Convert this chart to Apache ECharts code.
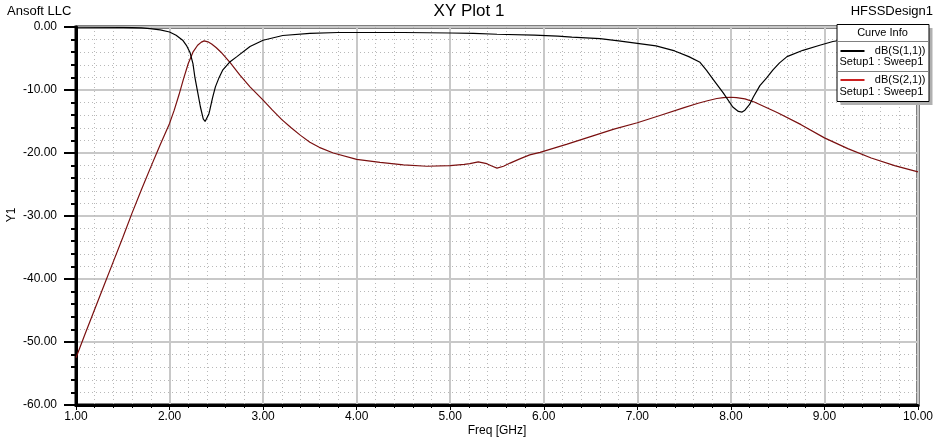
<!DOCTYPE html>
<html>
<head>
<meta charset="utf-8">
<script src="https://cdn.jsdelivr.net/npm/echarts@6/dist/echarts.min.js"></script>
<style>
html,body{margin:0;padding:0;background:#fff;}
#chart{width:938px;height:441px;}
</style>
</head>
<body>
<div id="chart"></div>
<script>
// ---- data ----
var freqS11 = [1.0,1.5,1.6,1.7,1.79,1.9,2.0,2.07,2.14,2.18,2.22,2.25,2.27,2.30,2.33,2.36,2.38,2.40,2.42,2.43,2.46,2.49,2.53,2.57,2.64,2.72,2.86,3.0,3.21,3.5,3.8,4.5,5.0,5.25,5.5,5.9,6.15,6.3,6.6,6.8,7.0,7.2,7.4,7.55,7.67,7.74,7.81,7.92,8.02,8.08,8.12,8.15,8.20,8.24,8.31,8.38,8.45,8.52,8.6,8.77,8.95,9.09,9.3,9.6,10.0];
var s11 =     [-0.01,-0.05,-0.1,-0.15,-0.25,-0.45,-0.8,-1.3,-2.1,-2.9,-4.1,-5.8,-7.9,-10.3,-12.7,-14.6,-15.0,-14.8,-13.8,-13.2,-11.2,-9.5,-8.0,-6.8,-5.6,-4.7,-3.1,-2.1,-1.35,-1.0,-0.87,-0.87,-0.95,-1.0,-1.15,-1.3,-1.45,-1.6,-1.85,-2.2,-2.6,-3.0,-3.8,-4.7,-5.6,-6.9,-8.3,-10.5,-12.7,-13.4,-13.5,-13.2,-12.3,-11.1,-9.3,-8.1,-6.8,-5.7,-4.7,-3.7,-2.9,-2.3,-1.8,-1.4,-1.1];
var freqS21 = [1.0,1.1,1.2,1.3,1.4,1.5,1.6,1.7,1.8,1.9,2.0,2.05,2.1,2.15,2.2,2.25,2.3,2.34,2.37,2.41,2.45,2.5,2.55,2.65,2.75,2.86,3.0,3.1,3.2,3.3,3.4,3.5,3.6,3.75,4.0,4.25,4.5,4.75,5.0,5.15,5.21,5.3,5.39,5.45,5.5,5.57,5.64,5.75,5.85,5.96,6.25,6.5,6.75,7.0,7.25,7.5,7.65,7.75,7.85,7.92,8.0,8.06,8.15,8.25,8.5,8.75,9.0,9.25,9.5,9.75,10.0];
var s21 =     [-52.5,-48.6,-44.8,-41.0,-37.2,-33.4,-29.5,-25.8,-22.2,-18.7,-15.3,-13.2,-10.8,-8.2,-5.8,-4.0,-2.9,-2.4,-2.2,-2.35,-2.7,-3.3,-4.0,-5.7,-7.6,-9.5,-11.6,-13.2,-14.7,-16.0,-17.2,-18.3,-19.1,-20.0,-21.0,-21.5,-21.9,-22.1,-22.0,-21.8,-21.7,-21.4,-21.7,-22.1,-22.4,-22.1,-21.6,-20.9,-20.3,-19.9,-18.6,-17.4,-16.2,-15.2,-14.0,-12.8,-12.1,-11.7,-11.35,-11.2,-11.15,-11.2,-11.4,-11.9,-13.6,-15.5,-17.6,-19.3,-20.8,-22.0,-23.0];
var curveNames = ['dB(S(1,1))','dB(S(2,1))'];
var sweepLabel = 'Setup1 : Sweep1';
var xAxisTitle = 'Freq [GHz]';
var yAxisTitle = 'Y1';

function zip(xs, ys){ return xs.map(function(x,i){ return [x, ys[i]]; }); }

var FONT = '"Liberation Sans", Arial, sans-serif';
var chart = echarts.init(document.getElementById('chart'), null, {renderer:'canvas'});

var Z = 100;
var option = {
  backgroundColor:'#ffffff',
  animation:false,
  grid:{left:76, right:20, top:27, bottom:36, show:true, borderColor:'#000', borderWidth:3, backgroundColor:'transparent', containLabel:false, outerBoundsMode:'none'},
  xAxis:{
    type:'value', min:1, max:10, interval:1,
    axisLine:{show:true, onZero:false, lineStyle:{color:'#000', width:3}},
    axisTick:{show:true, length:5, lineStyle:{color:'#000'}},
    minorTick:{show:true, splitNumber:5, length:3, lineStyle:{color:'#000'}},
    axisLabel:{color:'#000', fontFamily:FONT, fontSize:12, margin:6, formatter:function(v){return v.toFixed(2);}},
    splitLine:{show:true, lineStyle:{color:'#c8c8c8', width:2}},
    minorSplitLine:{show:true, lineStyle:{color:'#b8b8b8', width:1, type:[1,3]}}
  },
  yAxis:{
    type:'value', min:-60, max:0, interval:10,
    axisLine:{show:true, onZero:false, lineStyle:{color:'#000', width:3}},
    axisTick:{show:true, length:12, lineStyle:{color:'#000', width:2}},
    minorTick:{show:true, splitNumber:5, length:5, lineStyle:{color:'#000', width:2}},
    axisLabel:{color:'#000', fontFamily:FONT, fontSize:12, margin:19, formatter:function(v){return v.toFixed(2);}},
    splitLine:{show:true, lineStyle:{color:'#c8c8c8', width:2}},
    minorSplitLine:{show:true, lineStyle:{color:'#b8b8b8', width:1, type:[1,3]}}
  },
  series:[
    {name:curveNames[0], type:'line', data:zip(freqS11, s11), showSymbol:false, smooth:false,
     lineStyle:{color:'#000', width:1.2}, z:3},
    {name:curveNames[1], type:'line', data:zip(freqS21, s21), showSymbol:false, smooth:false,
     lineStyle:{color:'#7a1010', width:1.2}, z:2}
  ],
  graphic:[
    {type:'text', left:7, top:5, style:{text:'Ansoft LLC', fill:'#000', font:'13px '+FONT}},
    {type:'text', left:'center', top:3, style:{text:'XY Plot 1', fill:'#000', font:'17px '+FONT}},
    {type:'text', right:5, top:5, style:{text:'HFSSDesign1', fill:'#000', font:'13px '+FONT}},
    {type:'text', x:497, y:431, style:{text:xAxisTitle, fill:'#000', font:'12px '+FONT, textAlign:'center', textVerticalAlign:'middle'}},
    {type:'text', x:12, y:215, rotation:Math.PI/2, style:{text:yAxisTitle, fill:'#000', font:'12px '+FONT, textAlign:'center', textVerticalAlign:'middle'}},
    // legend box
    {type:'group', left:834, top:24, z:Z, children:[
      {type:'rect', z:Z, shape:{x:4, y:4, width:92, height:77}, style:{fill:'#b0b0b0'}},
      {type:'rect', z:Z+1, shape:{x:0.5, y:0.5, width:92, height:77}, style:{fill:'#fff', stroke:'#000', lineWidth:1}},
      {type:'text', z:Z+2, x:46, y:9, style:{text:'Curve Info', fill:'#000', font:'11px '+FONT, textAlign:'center', textVerticalAlign:'middle'}},
      {type:'line', z:Z+2, shape:{x1:0, y1:17.5, x2:92, y2:17.5}, style:{stroke:'#808080', lineWidth:1}},
      {type:'line', z:Z+2, shape:{x1:4, y1:27, x2:28, y2:27}, style:{stroke:'#000', lineWidth:2}},
      {type:'text', z:Z+2, x:89, y:27, style:{text:curveNames[0], fill:'#000', font:'11px '+FONT, textAlign:'right', textVerticalAlign:'middle'}},
      {type:'text', z:Z+2, x:3, y:38, style:{text:sweepLabel, fill:'#000', font:'11px '+FONT, textAlign:'left', textVerticalAlign:'middle'}},
      {type:'line', z:Z+2, shape:{x1:0, y1:47.5, x2:92, y2:47.5}, style:{stroke:'#808080', lineWidth:1}},
      {type:'line', z:Z+2, shape:{x1:4, y1:56, x2:28, y2:56}, style:{stroke:'#cc2020', lineWidth:2}},
      {type:'text', z:Z+2, x:89, y:56, style:{text:curveNames[1], fill:'#000', font:'11px '+FONT, textAlign:'right', textVerticalAlign:'middle'}},
      {type:'text', z:Z+2, x:3, y:68, style:{text:sweepLabel, fill:'#000', font:'11px '+FONT, textAlign:'left', textVerticalAlign:'middle'}}
    ]}
  ]
};
chart.setOption(option);
</script>
</body>
</html>
